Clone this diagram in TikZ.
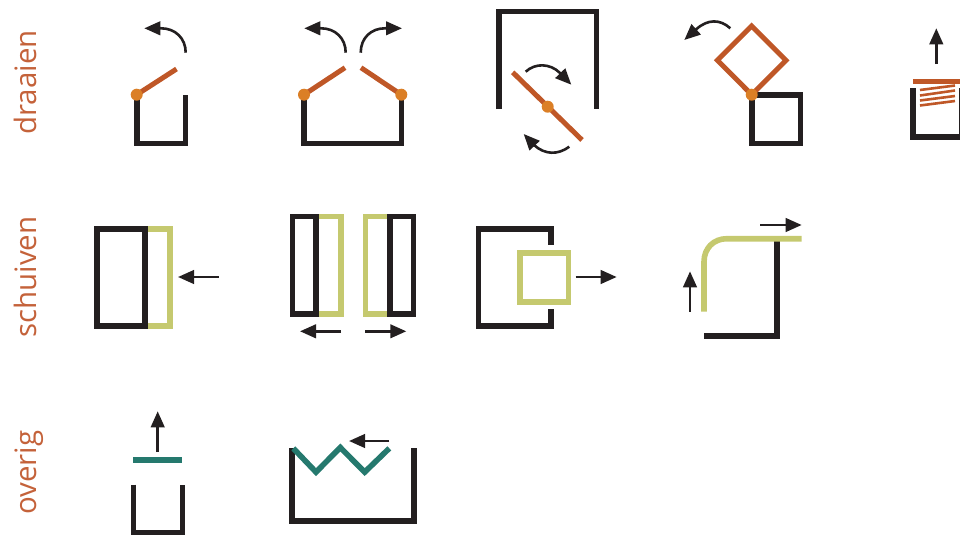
\documentclass[tikz,border=0pt]{standalone}
\usepackage{fontspec}
\setmainfont{Open Sans}
\usetikzlibrary{arrows.meta}
\definecolor{ink}{HTML}{231F20}
\definecolor{rust}{HTML}{BF5727}
\definecolor{amber}{HTML}{DB7F26}
\definecolor{moss}{HTML}{C5C96F}
\definecolor{teal2}{HTML}{25796E}
\definecolor{lab}{HTML}{C4623A}
\tikzset{
  wall/.style={draw=ink,line width=5.6pt,line cap=butt,miter limit=10},
  flap/.style={draw=rust,line width=5pt},
  slide/.style={draw=moss,line width=5.6pt},
  other/.style={draw=teal2,line width=5.6pt},
  mv/.style={draw=ink,line width=2.6pt,-{Triangle[length=16pt,width=13.5pt]}},
  pivot/.style={fill=amber,draw=none},
  lbl/.style={text=lab,font=\fontsize{29.5}{30}\selectfont,rotate=90,anchor=base,inner sep=0pt},
}
\begin{document}
\begin{tikzpicture}[x=1pt,y=-1pt]
\useasboundingbox (0,0) rectangle (960,535);
% labels
\node[lbl] (l1) at (36,82.5) {draaien};
\node[lbl] (l2) at (36,277) {schuiven};
\node[lbl] (l3) at (36,472.5) {overig};
% 1
\draw[wall] (136.7,94.7) -- (136.7,143.3) -- (185.3,143.3) -- (185.3,94.7);
\draw[flap] (136.7,94.7) -- (176.5,69);
\fill[pivot] (136.7,94.7) circle (6);
\draw[mv] (185.7,52.7) .. controls (185.7,38) and (175,28.3) .. (161,28.3) -- (144.3,28.3);
% 2
\draw[wall] (304,94.7) -- (304,143.3) -- (401.3,143.3) -- (401.3,94.7);
\draw[flap] (304,94.7) -- (345,67.7);
\draw[flap] (401.3,94.7) -- (361,67.7);
\fill[pivot] (304,94.7) circle (6);
\fill[pivot] (401.3,94.7) circle (6);
\draw[mv] (345.7,52.7) .. controls (345.7,38) and (335,28.3) .. (321,28.3) -- (304.3,28.3);
\draw[mv] (360.7,52.7) .. controls (360.7,38) and (371,28.3) .. (385,28.3) -- (402,28.3);
% 3
\draw[wall] (498.7,109) -- (498.7,11.7) -- (596.3,11.7) -- (596.3,109);
\draw[flap] (512.7,72.3) -- (582,140);
\fill[pivot] (547.7,106.7) circle (6);
\draw[mv] (525.7,71.7) .. controls (535,63) and (550,63) .. (560,73) -- (571.3,84.7);
\draw[mv] (569.3,146.7) .. controls (558,155) and (545,155) .. (534,145) -- (523.7,134);
% 4
\draw[wall] (752,94.7) -- (800.3,94.7) -- (800.3,143.3) -- (752,143.3) -- cycle;
\draw[flap] (751.7,26) -- (786,60.3) -- (751.7,94.7) -- (717.4,60.3) -- cycle;
\fill[pivot] (751.7,94.7) circle (6);
\draw[mv] (730.3,28.3) .. controls (720,19) and (708,19) .. (696.5,29) -- (684.3,40);
% 5
\draw[wall] (912.7,88.3) -- (912.7,136.7) -- (961.3,136.7) -- (961.3,88.3);
\draw[rust,line width=2.6pt] (920,90) -- (955,85.5) (920,95.5) -- (955,90.5)
   (920,100.5) -- (955,96) (920,105.5) -- (955,101);
\draw[flap,line width=5.3pt] (913,81.7) -- (960,81.7);
\draw[mv] (936.3,64) -- (936.3,28.3);
% row 2, 1
\draw[slide] (145,228.7) -- (170,228.7) -- (170,325.7) -- (145,325.7);
\draw[wall] (97,228.7) rectangle (145,325.7);
\draw[mv] (218.7,277) -- (178,277);
% row 2, 2
\draw[slide] (315.7,216.3) -- (340.7,216.3) -- (340.7,313.7) -- (315.7,313.7);
\draw[wall] (292.3,216.3) rectangle (315.7,313.7);
\draw[slide] (389.7,216.3) -- (365.3,216.3) -- (365.3,313.7) -- (389.7,313.7);
\draw[wall] (389.7,216.3) rectangle (413.3,313.7);
\draw[mv] (341,331.3) -- (300,331.3);
\draw[mv] (365.3,331.3) -- (406.3,331.3);
% row 2, 3
\draw[wall] (551,244.7) -- (551,228.7) -- (478.3,228.7) -- (478.3,325.7) -- (551,325.7) -- (551,309.3);
\draw[slide] (519.7,252.7) rectangle (568.3,302);
\draw[mv] (575.7,277) -- (616.7,277);
% row 2, 4
\draw[wall] (777,240) -- (777,336) -- (703.7,336);
\draw[slide] (704,311.7) -- (704,261.7) .. controls (704,248.5) and (713.5,238.7) .. (726.7,238.7) -- (801.7,238.7);
\draw[mv] (690,311.7) -- (690,271.3);
\draw[mv] (760.3,225) -- (801.7,225);
% row 3, 1
\draw[wall] (133.3,484.7) -- (133.3,532.3) -- (182.3,532.3) -- (182.3,484.7);
\draw[other] (133.3,460) -- (182.3,460);
\draw[mv] (157.7,452) -- (157.7,411.3);
% row 3, 2
\draw[wall] (292,447.7) -- (292,520.7) -- (413.7,520.7) -- (413.7,447.7);
\draw[other] (293.3,448.3) -- (316,472.1) -- (340.3,447.5) -- (364.7,472.1) -- (389.3,448.3);
\draw[mv] (389.3,441) -- (349,441);
\end{tikzpicture}
\end{document}
